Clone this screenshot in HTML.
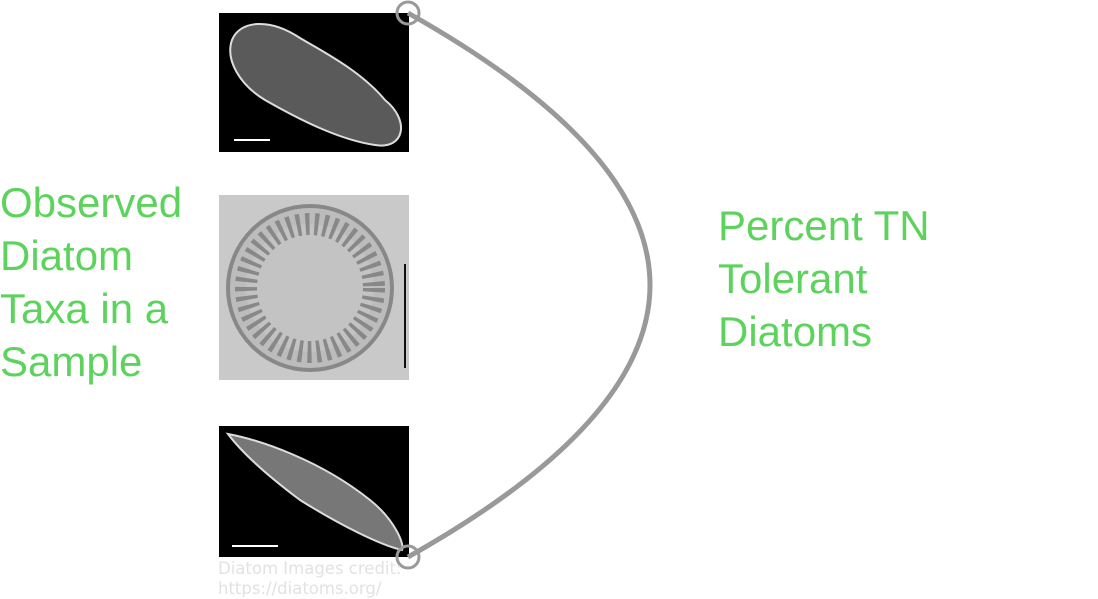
<!DOCTYPE html>
<html><head><meta charset="utf-8"><style>
body{margin:0;width:1098px;height:598px;background:#fff;overflow:hidden;position:relative;font-family:"Liberation Sans",sans-serif}
.t{position:absolute;color:#5dd35d;font-size:42px;line-height:53px}
.credit{position:absolute;left:218px;top:559px;color:#e2e2e2;font-family:"DejaVu Sans",sans-serif;font-size:16.5px;line-height:20px}
</style></head><body>
<div class="t" style="left:0;top:176px">Observed<br>Diatom<br>Taxa in a<br>Sample</div>
<div class="t" style="left:718px;top:199px">Percent TN<br>Tolerant<br>Diatoms</div>
<svg width="1098" height="598" style="position:absolute;left:0;top:0">
<g>
<rect x="219" y="13" width="190" height="139" fill="#000"/>
<path d="M232,40 C240,20 270,18 300,38 C320,50 360,70 385,100 C410,120 405,150 375,145 C340,140 300,120 265,100 C240,85 225,60 232,40Z" fill="#5a5a5a" stroke="#ddd" stroke-width="2"/>
<rect x="234" y="139" width="36" height="2" fill="#fff"/>
</g>
<g>
<rect x="219" y="195" width="190" height="185" fill="#c9c9c9"/>
<circle cx="310" cy="288" r="82" fill="#bcbcbc" stroke="#888" stroke-width="4"/>
<circle cx="310" cy="288" r="64" fill="#c8c8c8" stroke="#666" stroke-width="22" stroke-dasharray="4 5" opacity="0.6"/>
<rect x="404" y="264" width="2" height="104" fill="#111"/>
</g>
<g>
<rect x="219" y="426" width="190" height="131" fill="#000"/>
<path d="M228,434 C260,440 320,460 370,500 C395,520 405,545 402,550 C380,545 340,525 300,500 C260,470 240,450 228,434Z" fill="#777" stroke="#ddd" stroke-width="2"/>
<rect x="232" y="545" width="46" height="2" fill="#fff"/>
</g>
<path d="M408,13 Q892,285 408,557" fill="none" stroke="#999" stroke-width="5"/>
<circle cx="408" cy="13" r="11" fill="none" stroke="#999" stroke-width="3"/>
<circle cx="408" cy="557" r="11" fill="none" stroke="#999" stroke-width="3"/>
</svg>
<div class="credit">Diatom Images credit:<br>https://diatoms.org/</div>
</body></html>
